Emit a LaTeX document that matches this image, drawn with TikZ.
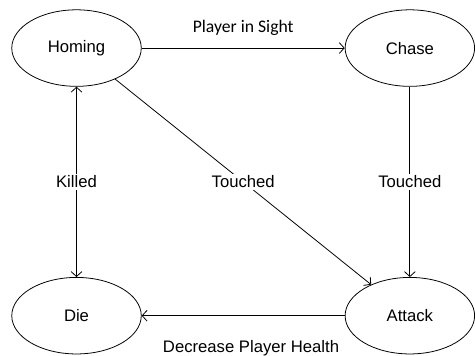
\documentclass[tikz,border=0pt]{standalone}
\usepackage{fontspec}
\setmainfont{Liberation Sans}
\newfontfamily\sightfont{Carlito}
\usetikzlibrary{shapes,arrows.meta,positioning}

\begin{document}
\begin{tikzpicture}[
    node distance=194pt and 207pt,
    every node/.style={font=\fontsize{17}{20}\selectfont},
    state/.style={ellipse, draw, line width=0.8pt, minimum width=132pt, minimum height=78pt},
    edgetext/.style={fill=white, inner sep=2pt},
    arrow/.style={->, line width=0.8pt, >={Straight Barb[length=5pt,width=11pt]}}
]
    \node[state] (homing) {Homing};
    \node[state, right=of homing] (chase) {Chase};
    \node[state, below=of homing] (die) {Die};
    \node[state, below=of chase] (attack) {Attack};

    \useasboundingbox ([xshift=-78pt, yshift=49pt]homing.center) rectangle ++(475pt,-362pt);

    \draw[arrow] (homing) -- node[above=9pt, font=\sightfont\fontsize{18}{21}\selectfont] {Player in Sight} (chase);
    \draw[arrow] (chase) -- node[edgetext] {Touched} (attack);
    \draw[arrow] (homing) -- node[edgetext] {Touched} (attack);
    \draw[arrow, <->] (homing) -- node[edgetext] {Killed} (die);
    \draw[arrow] (attack) -- node[below=21pt, xshift=8pt] {Decrease Player Health} (die);
\end{tikzpicture}
\end{document}
